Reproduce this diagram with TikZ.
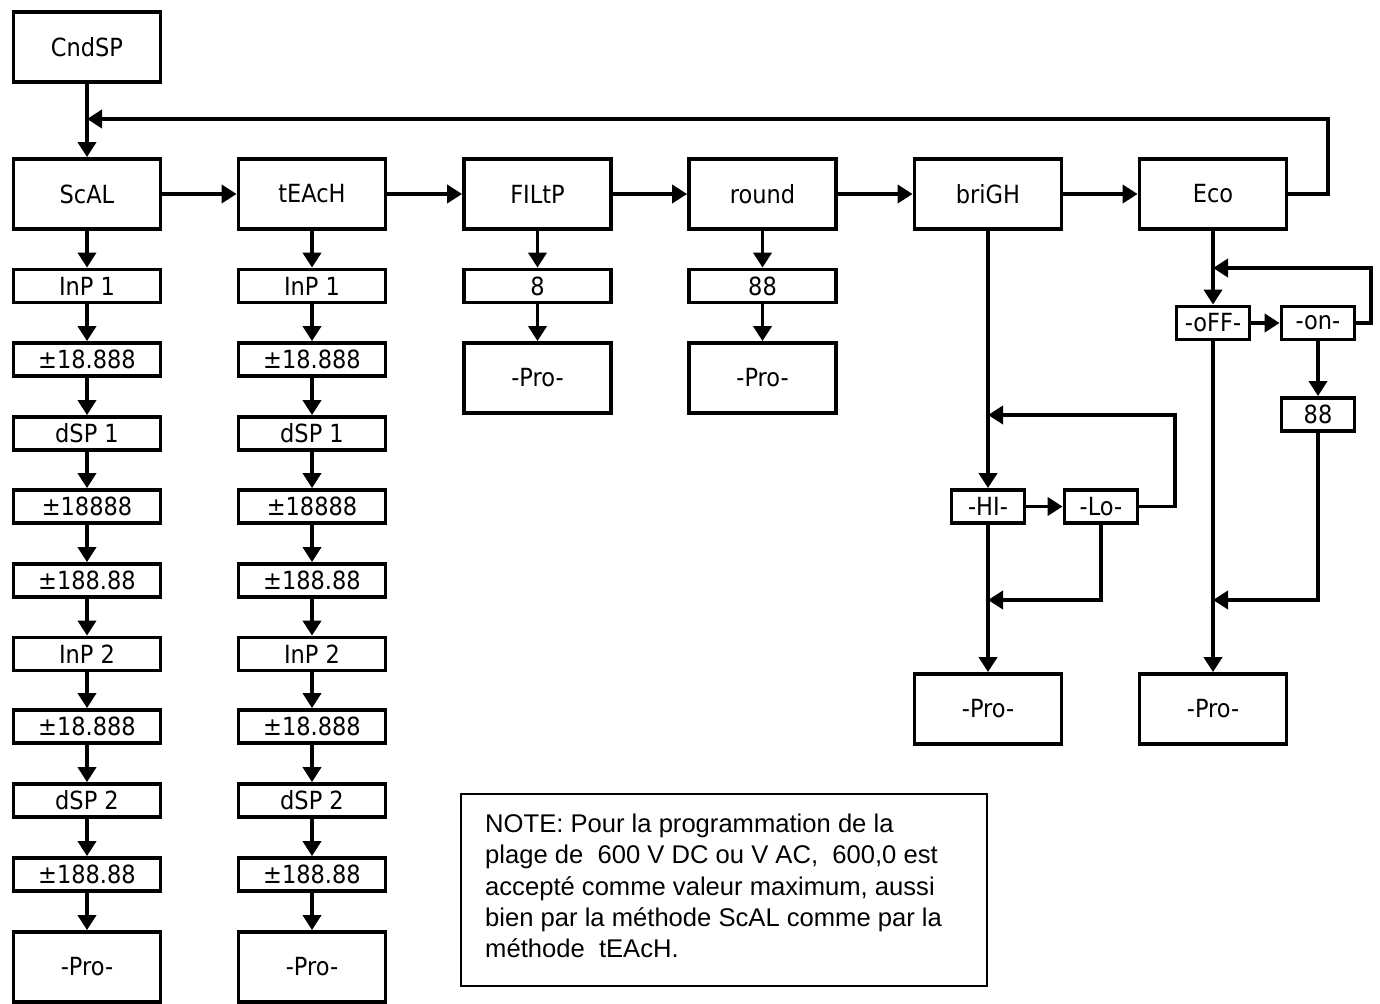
\documentclass[tikz,border=0pt]{standalone}
\usepackage{fontspec}
\setmainfont{Liberation Sans}
\newfontfamily\dispfont{DejaVu Sans Condensed}
\usetikzlibrary{arrows.meta}
\begin{document}
\begin{tikzpicture}[x=1pt,y=-1pt,
  every node/.style={inner sep=0pt},
  bigbox/.style={draw,line width=3.8pt,minimum width=147pt,minimum height=70pt,font=\dispfont\fontsize{25}{28}\selectfont},
  smallbox/.style={draw,line width=3.8pt,minimum width=147pt,minimum height=33pt,font=\dispfont\fontsize{25}{28}\selectfont},
  tinybox/.style={draw,line width=3.8pt,minimum width=73pt,minimum height=33pt,font=\dispfont\fontsize{25}{28}\selectfont},
  conn/.style={line width=3.8pt,-{Triangle[length=15pt,width=18pt]}}]
\useasboundingbox (0,0) rectangle (1380,1003);
\fill[white] (0,0) rectangle (1380,1003);
% top row
\node[bigbox] (cnd) at (87,47) {CndSP};
\node[bigbox] (scal) at (87,194) {ScAL};
\node[bigbox] (teach) at (312,194) {tEAcH};
\node[bigbox] (filt) at (537.5,194) {FILtP};
\node[bigbox] (round) at (762.5,194) {round};
\node[bigbox] (brig) at (988,194) {briGH};
\node[bigbox] (eco) at (1213,194) {Eco};
\draw[conn] (cnd) -- (scal);
\draw[conn] (scal) -- (teach);
\draw[conn] (teach) -- (filt);
\draw[conn] (filt) -- (round);
\draw[conn] (round) -- (brig);
\draw[conn] (brig) -- (eco);
\coordinate (fb) at (87,119);
\draw[conn] (eco.east) -- (1328,194) |- (fb);
% ScAL and tEAcH columns
\foreach \c/\x/\p in {s/87/scal,t/312/teach}{
  \node[smallbox] (\c1) at (\x,286) {InP 1};
  \node[smallbox] (\c2) at (\x,359.5) {±18.888};
  \node[smallbox] (\c3) at (\x,433.5) {dSP 1};
  \node[smallbox] (\c4) at (\x,506.5) {±18888};
  \node[smallbox] (\c5) at (\x,580.5) {±188.88};
  \node[smallbox] (\c6) at (\x,654) {InP 2};
  \node[smallbox] (\c7) at (\x,726.5) {±18.888};
  \node[smallbox] (\c8) at (\x,800.5) {dSP 2};
  \node[smallbox] (\c9) at (\x,874.5) {±188.88};
  \node[bigbox] (\c10) at (\x,967) {-Pro-};
  \draw[conn] (\p) -- (\c1);
  \draw[conn] (\c1) -- (\c2);
  \draw[conn] (\c2) -- (\c3);
  \draw[conn] (\c3) -- (\c4);
  \draw[conn] (\c4) -- (\c5);
  \draw[conn] (\c5) -- (\c6);
  \draw[conn] (\c6) -- (\c7);
  \draw[conn] (\c7) -- (\c8);
  \draw[conn] (\c8) -- (\c9);
  \draw[conn] (\c9) -- (\c10);
}
% FILtP and round
\node[smallbox] (f1) at (537.5,286) {8};
\node[bigbox] (f2) at (537.5,378) {-Pro-};
\draw[conn] (filt) -- (f1);
\draw[conn] (f1) -- (f2);
\node[smallbox] (r1) at (762.5,286) {88};
\node[bigbox] (r2) at (762.5,378) {-Pro-};
\draw[conn] (round) -- (r1);
\draw[conn] (r1) -- (r2);
% briGH
\node[tinybox] (hi) at (988,506.5) {-HI-};
\node[tinybox] (lo) at (1101,506.5) {-Lo-};
\node[bigbox] (bpro) at (988,709) {-Pro-};
\coordinate (bj1) at (988,415);
\coordinate (bj2) at (988,600);
\draw[conn] (brig) -- (hi);
\draw[conn] (hi) -- (lo);
\draw[conn] (lo.east) -- (1175,506.5) |- (bj1);
\draw[conn] (hi) -- (bpro);
\draw[conn] (lo.south) |- (bj2);
% Eco
\node[tinybox] (off) at (1213,323) {-oFF-};
\node[tinybox] (on) at (1318,323) {-on-};
\node[tinybox] (e88) at (1318,414.5) {88};
\node[bigbox] (epro) at (1213,709) {-Pro-};
\coordinate (ej1) at (1213,268);
\coordinate (ej2) at (1213,600);
\draw[conn] (eco) -- (off);
\draw[conn] (off) -- (on);
\draw[conn] (on.east) -- (1371,323) |- (ej1);
\draw[conn] (on) -- (e88);
\draw[conn] (off) -- (epro);
\draw[conn] (e88.south) |- (ej2);
% note
\node[draw,line width=2.5pt,minimum width=526pt,minimum height=192pt] (note) at (724,890) {};
\node[anchor=north west,align=left,font=\fontsize{25.6}{31.2}\selectfont] (notetext) at (485,814) {NOTE: Pour la programmation de la\\plage de\ \ 600 V DC ou V AC,\ \ 600,0 est\\accepté comme valeur maximum, aussi\\bien par la méthode ScAL comme par la\\méthode\ \ tEAcH.};
\end{tikzpicture}
\end{document}
